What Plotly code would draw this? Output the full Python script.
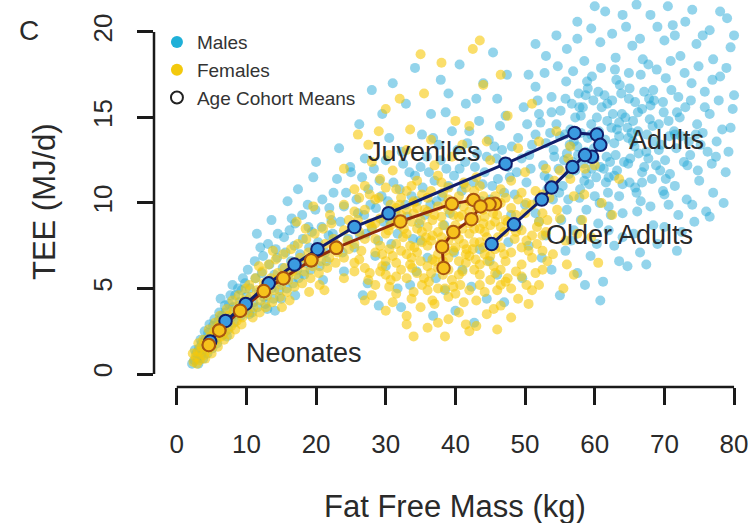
import plotly.graph_objects as go

# ---------------- data ----------------
male_points = [
    # neonates / infants
    (2.5,0.8),(2.8,1.2),(3.0,0.9),(3.2,1.5),(3.5,1.1),(3.6,1.8),(3.9,1.4),(4.1,2.0),(4.3,1.6),(4.5,2.4),
    (4.8,1.7),(5.0,2.2),(5.2,2.8),(5.5,2.0),(5.7,2.6),(6.0,3.1),(6.2,2.4),(6.5,3.4),(6.8,2.8),(7.0,3.6),
    (7.3,3.0),(7.5,4.1),(7.8,3.3),(8.1,3.9),(8.4,4.6),(8.6,3.5),(9.0,4.2),(9.3,4.9),(9.6,3.8),(10.0,4.5),
    (6.3,4.4),(8.0,5.2),(9.5,5.6),(7.2,2.2),(10.4,3.5),
    (2.2,0.6),(2.6,1.4),(3.1,0.6),(3.4,2.0),(3.8,0.9),(4.0,2.5),(4.4,1.2),(4.7,2.9),(5.1,1.5),(5.4,3.2),
    (5.8,1.8),(6.1,3.6),(6.6,2.3),(6.9,4.0),(7.4,2.6),(7.7,4.6),(8.2,3.0),(8.8,5.0),(9.2,3.4),(9.8,5.3),
    # children
    (10.5,5.0),(11.0,4.2),(11.3,5.6),(11.8,4.8),(12.2,5.9),(12.5,4.5),(12.9,5.3),(13.3,6.4),(13.6,5.0),(14.0,5.8),
    (14.4,6.8),(14.8,5.4),(15.2,6.2),(15.6,7.1),(16.0,5.8),(16.4,6.6),(16.9,7.5),(17.3,6.1),(17.7,7.0),(18.1,7.9),
    (18.5,6.5),(19.0,7.4),(19.4,8.3),(19.8,6.8),(20.3,7.7),(20.8,8.6),(21.3,7.1),(21.8,8.1),(22.2,9.0),
    (12.0,7.4),(14.5,8.2),(16.5,9.1),(13.0,3.8),(18.8,9.9),(19.6,11.5),(15.0,4.4),
    (10.2,6.1),(10.8,3.6),(11.2,6.6),(11.6,3.9),(12.4,6.9),(12.7,4.1),(13.1,7.6),(13.9,4.4),(14.2,7.3),(14.7,4.9),
    (15.4,8.0),(15.8,5.0),(16.2,8.4),(16.7,5.3),(17.0,8.8),(17.5,5.6),(18.0,9.3),(18.3,5.8),(18.9,8.6),(19.2,6.1),
    (19.9,9.6),(20.5,6.3),(20.9,10.2),(21.5,6.6),(21.9,9.7),(11.5,8.2),(13.6,9.0),(15.9,10.1),(17.4,10.8),(20.0,12.4),
    (14.1,3.7),(17.0,4.6),(21.0,5.5),
    # juveniles
    (22.8,7.6),(23.5,8.9),(24.0,9.8),(24.6,7.9),(25.2,8.6),(25.8,10.2),(26.3,8.1),(26.9,9.3),(27.5,10.8),(28.0,8.5),
    (28.6,9.7),(29.1,11.3),(29.7,8.9),(30.3,10.1),(30.8,7.6),(31.4,9.5),(32.0,10.8),(32.5,12.3),(33.1,9.2),(33.7,10.4),
    (34.2,11.6),(34.8,8.8),(35.3,10.9),(35.9,12.7),(36.4,9.9),(37.0,11.3),(37.6,13.4),(38.1,10.4),(38.7,12.0),(39.2,9.4),
    (39.8,11.6),(40.3,13.1),(40.9,10.7),(41.4,12.4),(42.0,14.2),(42.6,11.2),(43.1,12.9),(43.7,10.1),(44.2,11.8),(44.8,13.7),
    (45.3,11.0),(45.9,12.6),(46.4,14.5),(47.0,10.6),(47.5,12.1),(48.1,13.3),
    (27.0,12.6),(30.5,13.8),(34.2,17.9),(36.5,15.2),(39.0,16.4),(41.5,15.8),(44.0,17.0),(46.0,16.1),(25.0,11.8),(22.5,10.6),
    (26.7,4.6),(30.0,6.3),(33.5,5.2),(36.0,6.8),(38.5,4.9),(41.0,6.1),(43.5,7.3),(46.0,5.8),(35.0,7.8),(28.5,6.9),
    (40.0,3.7),(44.5,4.4),
    (22.4,8.2),(23.0,11.4),(23.8,7.1),(24.3,10.6),(24.9,12.1),(25.5,7.4),(26.0,9.4),(26.6,11.5),(27.2,8.2),(27.8,9.9),
    (28.3,12.0),(28.9,7.8),(29.4,10.4),(30.0,12.5),(30.6,9.0),(31.1,11.2),(31.7,8.2),(32.3,13.0),(32.8,9.9),(33.4,11.8),
    (33.9,7.9),(34.5,10.1),(35.0,12.1),(35.6,9.3),(36.2,11.8),(36.8,13.8),(37.3,10.1),(37.9,12.5),(38.4,8.7),(39.0,11.0),
    (39.5,14.2),(40.1,9.9),(40.6,12.0),(41.2,11.1),(41.7,13.5),(42.3,10.1),(42.8,12.1),(43.4,14.8),(43.9,11.1),(44.5,12.7),
    (45.0,10.2),(45.6,13.3),(46.1,11.4),(46.7,13.1),(47.2,15.1),(47.8,11.5),
    (23.3,13.2),(26.2,14.6),(29.5,15.2),(32.9,15.8),(35.2,14.0),(37.9,17.2),(40.6,18.1),(43.0,16.1),(45.4,18.8),(47.4,17.5),
    (31.0,17.0),(28.0,16.6),(38.6,15.3),
    (24.0,6.0),(27.4,5.3),(31.7,5.0),(34.4,6.0),(37.2,5.6),(39.8,7.1),(42.3,5.1),(44.9,6.6),(47.6,7.7),(32.2,3.9),
    (36.8,3.4),(42.7,3.0),(47.0,4.2),(29.0,4.0),
    # adults
    (49.0,8.6),(51.5,9.4),(53.0,8.1),(55.2,9.0),(57.0,8.4),(58.8,9.6),(60.5,8.8),(62.3,9.3),(64.0,8.0),(66.1,9.5),
    (68.4,8.7),(70.6,9.9),(55.8,7.2),(59.4,6.9),(62.8,7.5),(66.5,7.1),(52.4,6.8),(57.5,5.9),(61.2,5.4),(64.7,6.3),
    (69.0,7.6),(72.5,8.3),
    (48.5,10.5),(50.2,11.2),(51.8,10.1),(53.4,11.4),(54.9,10.6),(56.3,11.7),(57.8,10.3),(59.2,11.1),(60.7,10.0),(62.0,11.5),
    (63.5,10.4),(65.0,11.2),(66.6,10.1),(68.2,11.4),(69.8,10.7),(71.5,11.0),(73.2,10.2),(75.0,11.3),(77.0,10.6),
    (49.5,12.6),(51.0,13.4),(52.6,12.2),(54.1,13.1),(55.6,12.5),(57.0,13.6),(58.4,12.3),(59.9,13.2),(61.3,12.0),(62.8,13.5),
    (64.2,12.4),(65.7,13.3),(67.1,12.1),(68.6,13.6),(70.1,12.5),(71.7,13.2),(73.3,12.2),(75.2,13.4),(77.4,12.7),(79.2,13.0),
    (50.3,14.6),(52.0,15.2),(53.6,14.1),(55.1,15.4),(56.5,14.3),(58.0,15.1),(59.5,14.0),(61.0,15.6),(62.4,14.4),(63.9,15.2),
    (65.3,14.1),(66.8,15.5),(68.3,14.5),(69.9,15.3),(71.4,14.2),(73.0,15.6),(74.7,14.6),(76.5,15.2),(78.3,14.3),
    (51.5,16.8),(53.8,16.2),(55.9,17.1),(57.7,16.4),(59.6,17.4),(61.4,16.3),(63.1,17.2),(64.9,16.1),(66.6,17.5),(68.4,16.6),
    (70.2,17.3),(72.0,16.2),(73.9,17.0),(75.8,16.5),(78.0,17.4),(80.0,16.3),
    (53.0,18.6),(56.0,19.0),(58.5,18.3),(60.8,19.4),(63.0,18.5),(65.4,19.2),(67.7,18.1),(70.0,19.5),(72.3,18.6),(74.6,19.3),
    (77.0,18.4),(79.5,19.1),
    (57.5,20.6),(61.5,21.2),(64.5,20.3),(68.0,21.0),(71.2,20.4),(74.0,21.3),(76.5,20.1),(79.0,20.8),(66.0,21.6),
    (56.0,12.9),(58.0,14.1),(60.0,12.6),(61.8,14.8),(63.5,13.9),(65.5,14.8),(57.2,11.9),(59.0,13.8),(61.0,13.4),(63.0,12.8),
    (64.8,13.8),(66.3,12.9),(67.9,14.9),(60.3,15.0),(62.5,16.0),(58.7,16.3),(64.0,11.1),(56.7,15.8),
    (48.0,9.3),(50.0,9.9),(52.0,8.9),(54.0,10.2),(56.0,9.6),(58.0,9.0),(60.0,10.4),(62.0,9.8),(64.0,9.4),(66.0,10.6),
    (68.0,9.8),(70.0,10.5),(72.0,9.3),(74.0,9.9),(76.0,9.5),(78.5,10.0),
    (48.8,11.8),(50.8,12.0),(52.8,11.6),(54.8,12.0),(56.8,12.4),(58.8,11.7),(60.8,12.1),(62.8,11.6),(64.8,12.3),(66.8,11.8),
    (68.8,12.2),(70.8,11.7),(72.8,12.4),(74.8,11.9),(76.8,12.3),(78.8,11.8),
    (49.0,13.8),(51.5,14.0),(53.0,13.5),(55.0,13.9),(57.5,13.3),(59.5,14.6),(61.5,13.7),(63.5,14.7),(65.5,13.6),(67.5,14.0),
    (69.5,13.4),(71.5,14.0),(73.5,13.6),(75.5,14.1),(77.5,13.6),(79.5,14.4),
    (49.8,15.6),(51.8,16.0),(53.8,15.3),(55.8,16.1),(57.8,15.6),(59.8,16.0),(61.8,15.8),(63.8,16.4),(65.8,15.9),(67.8,16.1),
    (69.8,15.9),(71.8,15.3),(73.8,16.0),(75.8,15.6),(77.8,16.0),(79.8,15.5),
    (50.5,17.5),(52.8,17.6),(54.7,18.0),(56.9,17.7),(58.9,17.1),(60.9,17.9),(62.9,17.8),(64.9,17.6),(66.9,18.4),(68.9,17.8),
    (70.9,18.3),(72.9,17.6),(74.9,18.0),(76.9,17.2),(78.9,17.9),
    (51.5,19.3),(54.5,19.8),(57.5,19.6),(59.5,20.2),(62.5,19.9),(64.0,21.0),(66.5,19.6),(69.0,20.3),(71.5,19.8),(73.0,20.6),
    (75.5,19.8),(78.0,21.2),(80.0,19.8),(60.0,21.5),(70.5,21.5),
    (50.5,7.5),(53.8,6.1),(56.6,7.8),(58.6,5.2),(60.3,7.6),(63.5,6.6),(65.6,8.2),(67.4,6.4),(70.0,8.6),(71.8,7.2),
    (74.3,8.9),(76.5,9.2),(49.6,5.6),(55.0,4.6),(60.8,4.3),(62.0,8.4),
    (55.4,11.0),(57.6,12.8),(59.6,12.0),(61.6,11.2),(63.2,14.3),(65.1,12.6),(67.4,13.0),(69.2,14.6),(54.5,14.6),(56.4,13.4),
    (58.3,15.6),(60.6,14.2),(62.2,12.4),(64.4,15.0),(66.2,14.2),(68.0,15.7),(70.6,14.8),(72.4,13.9),(57.9,10.8),(61.9,10.6),
    (65.8,10.9),(69.4,11.9),(59.0,16.7),(63.6,16.9),(67.1,16.5),(71.0,16.6),
    (54.2,12.7),(55.7,14.0),(57.2,15.0),(58.7,13.0),(60.2,11.5),(61.7,12.7),(63.2,11.9),(64.7,14.4),(66.2,15.3),(67.7,12.6),
    (69.2,13.1),(70.7,13.9),(72.2,15.0),(73.7,12.8),(62.6,15.2),(65.0,16.7),(68.5,16.0),(60.5,16.5),(56.2,10.2),(58.5,11.3),
    (66.8,11.2),(70.2,11.4),(74.5,14.0),(76.2,13.0),(53.2,10.8),(50.6,12.8),(52.2,14.7),
]

female_points = [
    # neonates / infants
    (2.4,0.7),(2.7,1.0),(3.0,1.3),(3.3,0.8),(3.6,1.6),(3.9,1.1),(4.2,1.9),(4.5,1.4),(4.8,2.2),(5.1,1.7),
    (5.4,2.5),(5.7,2.0),(6.0,2.8),(6.4,2.2),(6.7,3.1),(7.0,2.5),(7.4,3.4),(7.8,2.8),(8.2,3.7),(8.6,3.1),
    (9.0,4.0),(9.4,3.3),(9.8,4.3),(10.2,3.6),
    (2.3,1.2),(2.9,0.6),(3.4,1.3),(3.8,2.0),(4.1,0.9),(4.6,2.6),(5.0,1.2),(5.5,3.0),(5.9,1.6),(6.2,3.4),
    (6.8,2.0),(7.2,3.8),(7.6,2.3),(8.0,4.3),(8.4,2.6),(8.9,4.6),(9.3,2.9),(9.9,5.0),(3.1,1.8),(5.2,2.1),
    (7.1,3.0),(9.1,3.6),
    # children
    (10.6,4.5),(11.0,3.9),(11.5,4.9),(12.0,4.3),(12.5,5.3),(13.0,4.6),(13.5,5.6),(14.0,4.9),(14.5,5.9),(15.0,5.2),
    (15.5,6.2),(16.0,5.5),(16.6,6.5),(17.1,5.8),(17.7,6.8),(18.3,6.0),(18.9,7.1),(19.5,6.3),(20.1,7.3),(20.7,6.6),
    (21.3,7.6),(21.9,6.8),(22.5,7.9),(23.1,7.1),
    (13.8,7.2),(16.2,4.3),(18.5,8.5),(20.5,5.2),(22.0,9.3),(11.8,6.3),
    (10.4,5.2),(10.9,3.3),(11.3,5.6),(11.9,3.6),(12.3,6.0),(12.8,3.9),(13.2,6.4),(13.7,4.2),(14.2,6.7),(14.8,4.5),
    (15.3,7.0),(15.8,4.8),(16.4,7.3),(16.9,5.1),(17.4,7.6),(18.0,5.3),(18.6,7.9),(19.2,5.6),(19.8,8.2),(20.4,5.9),
    (21.0,8.5),(21.6,6.2),(22.2,8.8),(22.8,6.5),(12.2,4.9),(14.3,5.5),(16.6,6.0),(18.7,6.6),(20.8,7.1),(22.7,7.5),
    (15.1,3.9),(19.0,4.8),(21.2,4.9),(17.2,8.9),(19.6,9.8),
    # juveniles / adults core
    (28.0,4.6),(31.0,4.2),(34.0,4.8),(37.0,4.1),(40.0,4.7),(43.0,4.3),(46.0,4.9),(49.0,4.4),(33.0,3.4),(39.0,3.2),
    (44.5,3.5),(36.0,2.7),(42.0,2.5),
    (25.5,6.0),(27.5,5.5),(29.5,6.3),(31.5,5.7),(33.5,6.4),(35.5,5.6),(37.5,6.2),(39.5,5.5),(41.5,6.5),(43.5,5.8),
    (45.5,6.3),(47.5,5.6),(49.5,6.4),(51.5,5.9),(30.5,5.1),(38.5,5.0),(46.5,5.2),
    (24.5,7.8),(26.5,7.2),(28.5,7.9),(30.5,7.3),(32.5,8.0),(34.5,7.1),(36.5,7.8),(38.5,7.2),(40.5,7.9),(42.5,7.3),
    (44.5,8.0),(46.5,7.4),(48.5,7.9),(50.5,7.2),(52.5,8.1),(33.5,7.5),(41.5,7.0),(37.5,8.3),
    (26.0,9.0),(28.0,8.6),(30.0,9.3),(32.0,8.7),(34.0,9.4),(36.0,8.6),(38.0,9.2),(40.0,8.7),(42.0,9.5),(44.0,8.8),
    (46.0,9.3),(48.0,8.6),(50.0,9.4),(52.0,8.9),(35.0,9.0),(43.0,9.1),(39.0,9.6),(47.0,8.3),
    (29.0,10.3),(31.5,10.8),(34.0,10.1),(36.5,10.7),(39.0,10.2),(41.5,10.9),(44.0,10.4),(46.5,10.8),(49.0,10.2),(51.5,10.7),
    (38.0,11.2),(43.0,11.5),
    (28.0,12.4),(33.0,13.1),(37.0,12.2),(41.0,13.4),(45.0,12.5),(49.0,13.2),(53.0,12.0),(31.0,11.9),
    (30.0,15.5),(35.5,16.4),(40.0,14.8),(44.0,16.9),(47.5,15.1),(26.0,14.0),(38.0,18.2),(51.0,15.8),(54.5,14.2),(42.5,19.0),
    (36.0,7.5),(38.0,8.0),(40.0,7.4),(42.0,8.2),(37.0,9.3),(41.0,8.5),(39.0,6.8),(43.5,7.7),(35.0,6.6),(39.5,9.9),
    (44.0,9.6),(33.0,8.2),(45.0,8.7),(41.0,6.0),(36.5,5.9),(31.5,7.6),(47.0,7.0),(34.0,10.0),
    (53.5,10.3),(55.0,9.1),(56.5,11.4),(54.0,7.0),(57.5,8.2),(58.5,10.5),(60.0,12.2),(56.0,6.4),
    (24.0,6.8),(24.0,8.4),(24.0,9.9),(24.0,5.6),(25.5,7.6),(25.5,9.5),(25.5,6.5),(25.5,10.8),
    (27.0,6.2),(27.0,7.9),(27.0,9.6),(27.0,11.0),(28.5,5.2),(28.5,7.1),(28.5,8.8),(28.5,10.2),
    (30.0,6.6),(30.0,8.2),(30.0,10.9),(30.0,5.8),(31.5,6.5),(31.5,8.9),(31.5,9.7),(31.5,4.7),
    (33.0,5.6),(33.0,7.0),(33.0,9.6),(33.0,10.7),(34.5,5.9),(34.5,8.5),(34.5,9.7),(34.5,11.3),
    (36.0,4.9),(36.0,6.3),(36.0,9.5),(36.0,10.3),(37.5,5.0),(37.5,7.0),(37.5,9.8),(37.5,11.6),
    (39.0,4.5),(39.0,6.1),(39.0,7.8),(39.0,10.9),(40.5,5.8),(40.5,6.6),(40.5,9.2),(40.5,10.4),
    (42.0,4.9),(42.0,6.9),(42.0,8.8),(42.0,10.1),(43.5,5.2),(43.5,6.4),(43.5,8.5),(43.5,11.0),
    (45.0,5.5),(45.0,7.7),(45.0,9.9),(45.0,6.9),(46.5,6.1),(46.5,8.6),(46.5,10.0),(46.5,4.0),
    (48.0,5.0),(48.0,7.1),(48.0,9.7),(48.0,11.3),(49.5,5.7),(49.5,8.4),(49.5,10.6),(49.5,7.4),
    (51.0,6.8),(51.0,8.1),(51.0,9.9),(51.0,4.9),(52.5,7.2),(52.5,9.4),(52.5,10.5),(52.5,6.1),
    (24.7,7.3),(24.7,9.0),(26.2,6.7),(26.2,8.3),(26.2,10.3),(27.7,5.9),(27.7,8.8),(27.7,10.5),
    (29.2,6.0),(29.2,7.5),(29.2,9.1),(29.2,11.4),(30.7,5.5),(30.7,8.7),(30.7,9.9),
    (32.2,6.1),(32.2,7.2),(32.2,9.3),(32.2,10.3),(33.7,4.4),(33.7,6.8),(33.7,8.9),(33.7,11.0),
    (35.2,5.2),(35.2,7.7),(35.2,8.3),(35.2,10.5),(36.7,6.7),(36.7,8.1),(36.7,9.0),(36.7,4.3),
    (38.2,5.8),(38.2,6.6),(38.2,8.7),(38.2,10.6),(39.7,5.1),(39.7,7.2),(39.7,8.1),(39.7,9.3),
    (41.2,4.2),(41.2,7.6),(41.2,9.8),(41.2,11.2),(42.7,6.1),(42.7,7.7),(42.7,8.5),(42.7,10.7),
    (44.2,4.8),(44.2,7.0),(44.2,8.3),(44.2,9.2),(45.7,5.9),(45.7,7.3),(45.7,8.9),(45.7,10.4),
    (47.2,5.4),(47.2,6.6),(47.2,9.0),(47.2,10.3),(48.7,6.0),(48.7,8.3),(48.7,9.3),
    (50.2,5.2),(50.2,7.8),(50.2,10.0),(51.7,7.6),(51.7,8.6),(53.2,6.6),(53.2,9.0),
    (31.0,6.9),(32.6,8.5),(34.1,7.4),(35.6,9.6),(37.1,6.6),(38.6,9.9),(40.1,8.2),(41.6,7.3),(43.1,9.7),(44.6,6.6),
    (46.1,8.0),(32.0,9.9),(35.8,8.0),(39.3,8.4),(42.9,6.7),(45.4,9.4),(30.4,8.4),(37.8,7.6),(41.0,9.3),(44.0,7.4),
    (33.8,6.2),(36.2,5.4),(40.7,5.2),(29.5,7.0),(47.5,8.9),
    (27.0,4.3),(30.0,3.7),(33.0,2.9),(35.0,3.9),(37.5,3.0),(40.5,3.6),(43.0,2.8),(45.5,3.8),(48.0,3.3),(50.5,4.1),
    (38.5,2.2),(41.5,2.9),(46.0,2.6),(52.0,5.2),(34.0,2.2),
    (24.0,12.0),(27.5,13.4),(30.5,12.8),(33.5,14.3),(36.5,13.7),(39.5,12.7),(42.0,14.5),(44.5,13.6),(47.0,12.4),(50.0,11.8),
    (52.0,13.6),(55.0,11.9),(32.0,16.1),(46.5,17.5),(56.5,13.3),(29.0,14.2),(35.0,18.7),(43.5,19.5),
    (53.0,8.3),(54.6,9.6),(55.8,7.8),(57.0,10.4),(58.2,9.0),(59.5,8.0),(61.0,10.0),(54.2,11.3),(56.2,12.6),(58.6,12.0),
    (62.5,9.3),(60.5,6.5),(57.0,5.8),(63.5,11.4),(55.5,5.0),
]

male_ffm = [p[0] for p in male_points]
male_tee = [p[1] for p in male_points]
female_ffm = [p[0] for p in female_points]
female_tee = [p[1] for p in female_points]

# age cohort means
male_mean_ffm = [4.8, 7.0, 9.9, 13.2, 16.9, 20.2, 25.5, 30.4, 47.2, 57.1, 60.3, 60.8, 59.6, 58.6, 56.8, 53.8, 52.4, 48.4, 45.2]
male_mean_tee = [1.9, 3.1, 4.1, 5.3, 6.4, 7.3, 8.6, 9.4, 12.3, 14.1, 14.0, 13.4, 12.7, 12.8, 12.1, 10.9, 10.2, 8.75, 7.6]
female_mean_ffm = [4.6, 6.1, 9.1, 12.5, 15.3, 19.3, 22.9, 32.1, 39.5, 42.6, 45.7, 44.9, 43.6, 42.3, 39.7, 38.1, 38.3]
female_mean_tee = [1.7, 2.55, 3.7, 4.85, 5.6, 6.65, 7.38, 8.92, 9.95, 10.18, 9.95, 9.92, 9.8, 9.05, 8.3, 7.44, 6.2]

x_ticks = [0, 10, 20, 30, 40, 50, 60, 70, 80]
y_ticks = [0, 5, 10, 15, 20]

stage_labels = ["Juveniles", "Adults", "Older Adults", "Neonates"]
stage_x = [35.6, 70.3, 63.6, 18.3]
stage_y = [13.0, 13.7, 8.1, 1.25]

# ---------------- styles ----------------
FONT = "Liberation Sans, Arial, sans-serif"
MALE_DOT = "rgba(40,170,215,0.5)"
FEMALE_DOT = "rgba(246,200,8,0.6)"
MALE_LINE = "#111d6b"
MALE_FILL = "#3b9be0"
FEMALE_LINE = "#8e2b0c"
FEMALE_FILL = "#f6c21c"
FEMALE_EDGE = "#a9560f"
TXT = "#2a2a2a"

fig = go.Figure()

fig.add_trace(go.Scatter(x=male_ffm, y=male_tee, mode="markers",
                         marker=dict(size=10, color=MALE_DOT, line=dict(width=0)),
                         showlegend=False, hoverinfo="skip"))
fig.add_trace(go.Scatter(x=female_ffm, y=female_tee, mode="markers",
                         marker=dict(size=10, color=FEMALE_DOT, line=dict(width=0)),
                         showlegend=False, hoverinfo="skip"))

fig.add_trace(go.Scatter(x=female_mean_ffm, y=female_mean_tee, mode="lines+markers",
                         line=dict(color=FEMALE_LINE, width=3),
                         marker=dict(size=12.5, color=FEMALE_FILL, line=dict(color=FEMALE_EDGE, width=2)),
                         showlegend=False))
fig.add_trace(go.Scatter(x=male_mean_ffm, y=male_mean_tee, mode="lines+markers",
                         line=dict(color=MALE_LINE, width=3),
                         marker=dict(size=12.5, color=MALE_FILL, line=dict(color=MALE_LINE, width=2)),
                         showlegend=False))
# female early-life means drawn on top (as in the picture)
fig.add_trace(go.Scatter(x=female_mean_ffm[:7], y=female_mean_tee[:7], mode="markers",
                         marker=dict(size=12.5, color=FEMALE_FILL, line=dict(color=FEMALE_EDGE, width=2)),
                         showlegend=False))

# legend entries
fig.add_trace(go.Scatter(x=[None], y=[None], mode="markers", name="Males",
                         marker=dict(size=12, color="#1fb0d8"), legendgroup="a"))
fig.add_trace(go.Scatter(x=[None], y=[None], mode="markers", name="Females",
                         marker=dict(size=12, color="#f3c90c"), legendgroup="b"))
fig.add_trace(go.Scatter(x=[None], y=[None], mode="markers", name="Age Cohort Means",
                         marker=dict(size=11, color="white", line=dict(color="#222", width=1.5)),
                         legendgroup="c"))

annotations = []
for t, ax_, ay_ in zip(stage_labels, stage_x, stage_y):
    annotations.append(dict(x=ax_, y=ay_, xref="x", yref="y", text=t, showarrow=False,
                            xanchor="center", yanchor="middle",
                            font=dict(family=FONT, size=27, color=TXT)))
annotations += [
    dict(x=-0.212, y=0.92, xref="paper", yref="paper", text="C", showarrow=False,
         xanchor="center", yanchor="middle", font=dict(family=FONT, size=28, color=TXT)),
    dict(x=0.512, y=-0.31, xref="paper", yref="paper", text="Fat Free Mass (kg)", showarrow=False,
         xanchor="center", yanchor="middle", font=dict(family=FONT, size=31, color=TXT)),
    dict(x=-0.187, y=0.478, xref="paper", yref="paper", text="TEE (MJ/d)", showarrow=False,
         xanchor="center", yanchor="middle", textangle=-90, font=dict(family=FONT, size=31, color=TXT)),
]

shapes = [
    dict(type="line", xref="x", yref="paper", x0=x_ticks[0], x1=x_ticks[-1], y0=0, y1=0,
         line=dict(color="#1a1a1a", width=2.5)),
    dict(type="line", xref="paper", yref="y", x0=0, x1=0, y0=y_ticks[0], y1=y_ticks[-1],
         line=dict(color="#1a1a1a", width=2.5)),
]

fig.update_layout(
    width=748, height=523,
    margin=dict(l=154, r=0, t=0, b=136),
    paper_bgcolor="white", plot_bgcolor="white",
    font=dict(family=FONT, color=TXT),
    annotations=annotations, shapes=shapes,
    legend=dict(x=0.005, y=0.94, xanchor="left", yanchor="top", bgcolor="rgba(0,0,0,0)",
                font=dict(family=FONT, size=19, color="#333"), traceorder="grouped",
                tracegroupgap=0, itemsizing="constant"),
    xaxis=dict(range=[-3.268, 81.14], tickvals=x_ticks, ticks="outside", ticklen=17, tickwidth=2.5,
               tickcolor="#1a1a1a", showgrid=False, zeroline=False, showline=False,
               ticklabeloverflow="allow",
               tickfont=dict(family=FONT, size=26, color=TXT), ticklabelstandoff=17),
    yaxis=dict(range=[-0.760, 21.87], tickvals=y_ticks, ticks="outside", ticklen=16, tickwidth=2.5,
               tickcolor="#1a1a1a", showgrid=False, zeroline=False, showline=False, tickangle=-90,
               ticklabeloverflow="allow",
               tickfont=dict(family=FONT, size=26, color=TXT), ticklabelstandoff=15),
)

fig.write_html("out.html")
